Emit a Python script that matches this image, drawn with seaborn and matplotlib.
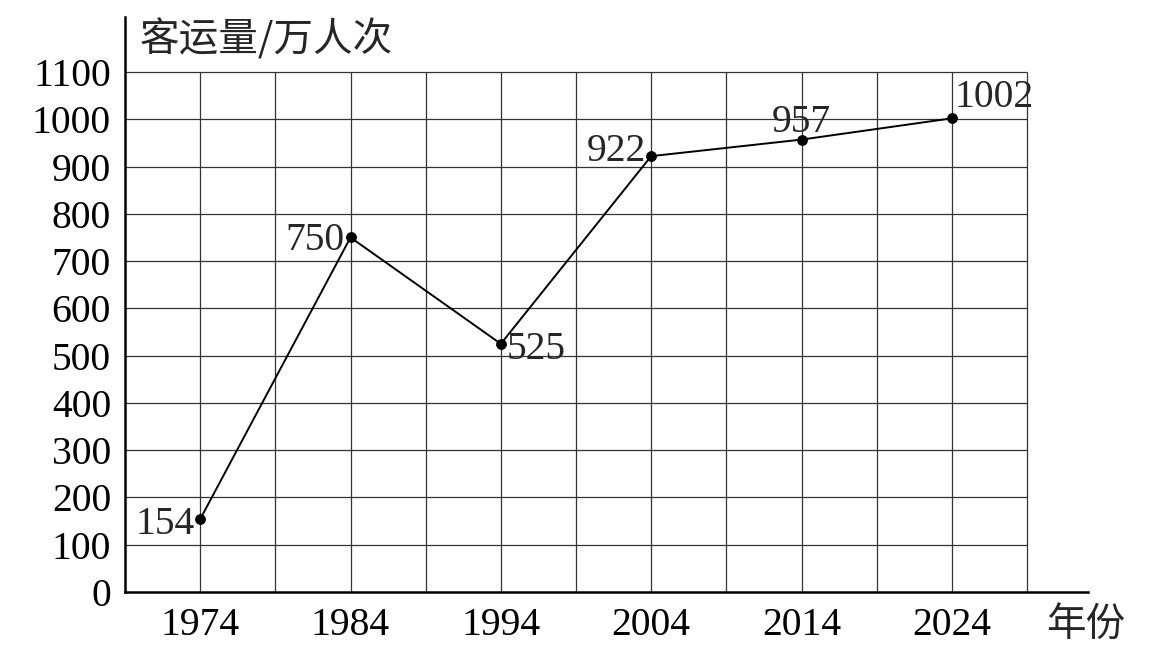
import matplotlib
matplotlib.use("Agg")
import matplotlib.pyplot as plt
import seaborn as sns
import numpy as np
import pandas as pd

# data
years = [1974, 1984, 1994, 2004, 2014, 2024]
passengers = [154, 750, 525, 922, 957, 1002]
y_ticks = list(range(0, 1101, 100))
y_title = "客运量/万人次"
x_title = "年份"

# label placement per point: (dx, dy) in points, ha, va
label_pos = [(-4, -4, "right", "center"),
             (-4, -2, "right", "center"),
             (4, -4, "left", "center"),
             (-4, 3, "right", "center"),
             (0, -1, "center", "bottom"),
             (2, 2, "left", "bottom")]

df = pd.DataFrame({"year": years, "value": passengers})

sns.set_style("white")
plt.rcParams["font.family"] = ["Liberation Serif", "Noto Sans CJK SC", "DejaVu Sans"]

fig = plt.figure(figsize=(11.57, 6.52), dpi=100)
ax = fig.add_axes([125 / 1157, 60 / 652, 963 / 1157, 575 / 652])

x_lo, x_hi = years[0] - 5, years[-1] + 5
px_per_year = (1027 - 125) / (x_hi - x_lo)
ax.set_xlim(x_lo, x_lo + 963 / px_per_year)
ax.set_ylim(0, max(y_ticks) * 575 / 520)

# grid, only inside the frame
grid_x = np.arange(x_lo, x_hi + 1, 5)
ax.hlines(y_ticks[1:], x_lo, x_hi, color="#333333", lw=0.9, zorder=1)
ax.vlines(grid_x[1:], 0, max(y_ticks), color="#333333", lw=0.9, zorder=1)

sns.lineplot(data=df, x="year", y="value", ax=ax, color="black", lw=1.4,
             marker="o", markersize=7, markeredgecolor="black", zorder=3)

for (yr, v), (dx, dy, ha, va) in zip(zip(years, passengers), label_pos):
    ax.annotate(str(v), (yr, v), xytext=(dx, dy), textcoords="offset points",
                ha=ha, va=va, fontsize=28.5, family="Liberation Serif")

for side in ["top", "right"]:
    ax.spines[side].set_visible(False)
for side in ["left", "bottom"]:
    ax.spines[side].set_linewidth(1.8)
    ax.spines[side].set_color("black")

ax.set_xticks(years)
ax.set_yticks(y_ticks)
ax.tick_params(axis="both", length=0, labelsize=28.5, colors="black")
ax.tick_params(axis="x", pad=11)
ax.tick_params(axis="y", pad=10)
ax.set_xlabel("")
ax.set_ylabel("")

fig.text(140 / 1157, 1 - 40 / 652, y_title, fontsize=28.5, ha="left", va="center",
         family=["Noto Sans CJK SC", "DejaVu Sans"])
fig.text(1046 / 1157, 1 - 625 / 652, x_title, fontsize=28.5, ha="left", va="center",
         family=["Noto Sans CJK SC", "DejaVu Sans"])

fig.savefig("out.png", dpi=100, facecolor="white")
